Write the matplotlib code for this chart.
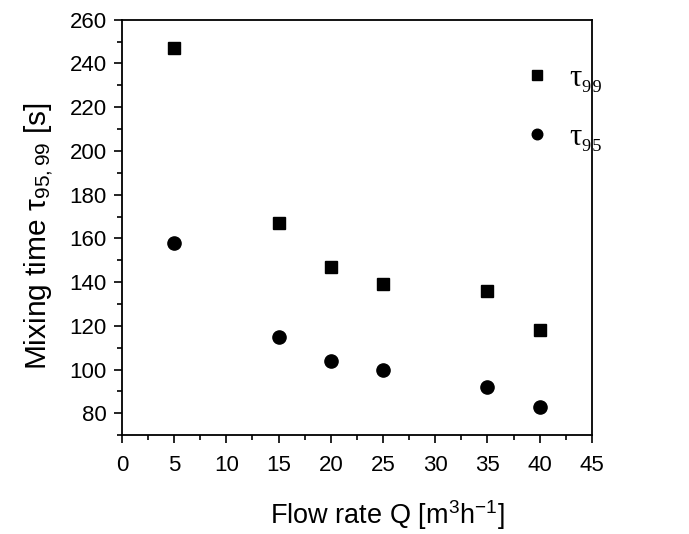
import matplotlib

matplotlib.use('Agg')
import numpy as np
import matplotlib.pyplot as plt
from matplotlib.ticker import MultipleLocator

plt.rcParams['font.family'] = ['Liberation Sans', 'DejaVu Sans']
plt.rcParams['mathtext.fontset'] = 'custom'
plt.rcParams['mathtext.rm'] = 'Liberation Sans'
plt.rcParams['mathtext.it'] = 'Liberation Sans'

flow = [5, 15, 20, 25, 35, 40]
tau99 = [247, 167, 147, 139, 136, 118]
tau95 = [158, 115, 104, 100, 92, 83]
labels = ['τ₉₉', 'τ₉₅']

fig = plt.figure(figsize=(6.89, 5.34), dpi=100)
ax = fig.add_axes([0.177, 0.185, 0.682, 0.778])

ax.plot(flow, tau99, 's', color='black', markersize=8.5, label=labels[0])
ax.plot(flow, tau95, 'o', color='black', markersize=9.5, label=labels[1])

ax.set_xlim(0, 45)
ax.set_ylim(70, 260)
ax.xaxis.set_major_locator(MultipleLocator(5))
ax.xaxis.set_minor_locator(MultipleLocator(2.5))
ax.yaxis.set_minor_locator(MultipleLocator(10))
ax.set_yticks(np.arange(80, 261, 20))
ax.tick_params(which='both', direction='out', top=False, right=False, labelsize=16, width=1.2)
ax.tick_params(which='major', length=6)
ax.tick_params(which='minor', length=3.5)
ax.tick_params(axis='x', pad=8)
ax.tick_params(axis='y', pad=5)
for s in ax.spines.values():
    s.set_linewidth(1.3)

ax.set_xlabel(r'Flow rate Q [m$^3$h$^{-1}$]', fontsize=19.5)
ax.set_ylabel(r'Mixing time $\mathregular{\tau_{95,99}}$ [s]', fontsize=21.5)
ax.xaxis.set_label_coords(0.564, -0.152)
ax.yaxis.set_label_coords(-0.142, 0.48)

leg = ax.legend(loc='upper left', bbox_to_anchor=(0.792, 0.96), frameon=False,
                prop={'family': ['Liberation Serif', 'DejaVu Serif'], 'size': 22},
                labelspacing=0.98, handlelength=1.0, handletextpad=0.57,
                markerscale=0.8)

plt.savefig('out.png', dpi=100)
